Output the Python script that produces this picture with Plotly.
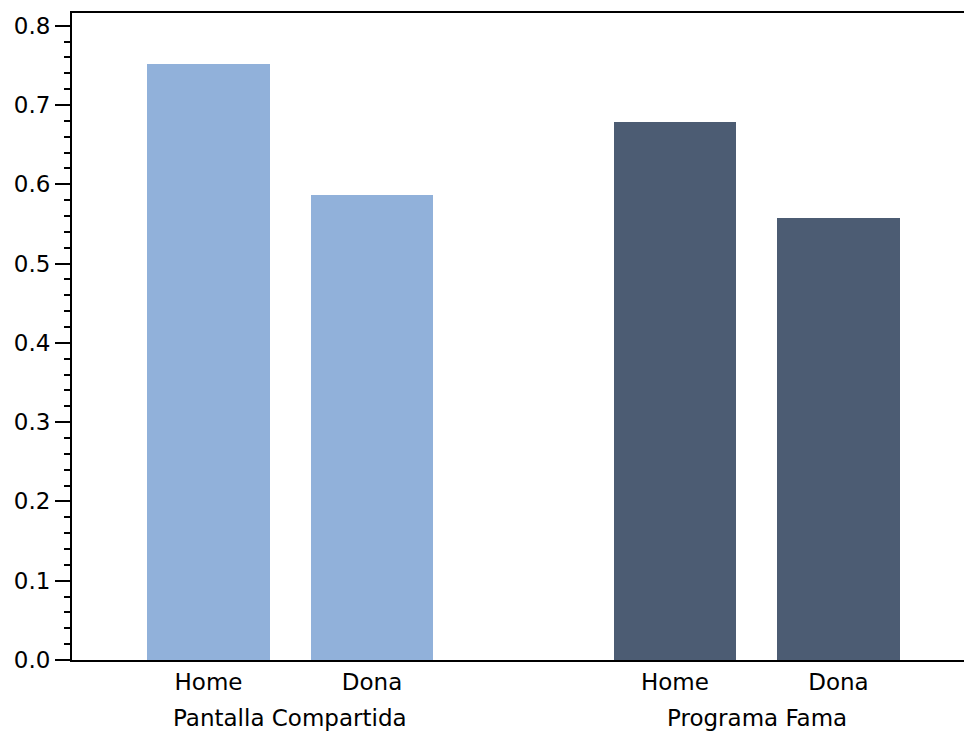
import plotly.graph_objects as go

# Data
groups = ["Pantalla Compartida", "Programa Fama"]
categories = ["Home", "Dona"]
values = {
    "Pantalla Compartida": [0.752, 0.587],
    "Programa Fama": [0.679, 0.558],
}
colors = {
    "Pantalla Compartida": "#91B1DA",
    "Programa Fama": "#4C5C73",
}
y_ticks = [0.0, 0.1, 0.2, 0.3, 0.4, 0.5, 0.6, 0.7, 0.8]

# Layout of the grouped category axis (slot units)
group_offset = [0.0, 2.853]
bar_width = 0.75
FONT = "DejaVu Sans"
FSIZE = 23

fig = go.Figure()
tickvals, ticktext = [], []
annotations = []
for g, name in enumerate(groups):
    xs = [group_offset[g] + i for i in range(len(categories))]
    fig.add_trace(go.Bar(
        x=xs, y=values[name], width=bar_width,
        marker=dict(color=colors[name], line=dict(width=0)),
        name=name, showlegend=False,
    ))
    tickvals += xs
    ticktext += categories
    annotations.append(dict(
        x=sum(xs) / len(xs), xref="x", y=-0.089, yref="paper",
        text=name, showarrow=False, xanchor="center", yanchor="middle",
        font=dict(family=FONT, size=FSIZE, color="black"),
    ))

fig.update_layout(
    width=964, height=735,
    margin=dict(l=72, r=0, t=13, b=75),
    paper_bgcolor="white", plot_bgcolor="white",
    font=dict(family=FONT, size=FSIZE, color="black"),
    annotations=annotations,
    bargap=0,
)
fig.update_xaxes(
    range=[-0.835, 4.621],
    tickvals=tickvals, ticktext=ticktext,
    ticks="", showgrid=False, zeroline=False,
    showline=True, linecolor="black", linewidth=2, mirror=True,
    tickfont=dict(family=FONT, size=FSIZE, color="black"),
)
fig.update_yaxes(
    range=[0, 0.816],
    tickvals=y_ticks, ticktext=[f"{v:.1f}" for v in y_ticks],
    ticks="outside", ticklen=15, tickwidth=2, tickcolor="black",
    minor=dict(dtick=0.02, ticks="outside", ticklen=6, tickwidth=2, tickcolor="black"),
    showgrid=False, zeroline=False,
    showline=True, linecolor="black", linewidth=2,
    tickfont=dict(family=FONT, size=FSIZE, color="black"),
)

fig.write_html("out.html")
